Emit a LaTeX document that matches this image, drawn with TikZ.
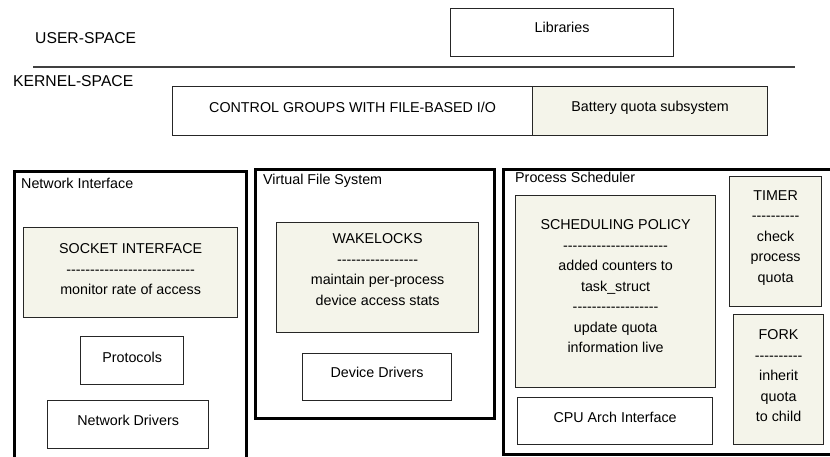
\documentclass[tikz,border=0pt]{standalone}
\usepackage{fontspec}
\setmainfont{Liberation Sans}
\definecolor{beige}{HTML}{F4F4EA}
\newcommand\dl[1]{\foreach\k in {1,...,#1}{-\kern0pt}}
\begin{document}
\begin{tikzpicture}[x=1bp,y=-1bp,
  inbox/.style={draw=black!85, line width=1.2bp, inner sep=0pt, anchor=north west},
  fillbox/.style={inbox, fill=beige},
  outer/.style={draw=black, line width=2.8bp, inner sep=0pt, anchor=north west},
  txt/.style={font=\fontsize{14.3bp}{20.5bp}\selectfont, align=center, inner sep=0pt, text=black},
  big/.style={font=\fontsize{15.7bp}{18bp}\selectfont, inner sep=0pt, text=black},
  sep/.style={draw=black!75, line width=1.4bp}
]
\useasboundingbox (0,0) rectangle (830,457);
\fill[white] (0,0) rectangle (830,457);

% top labels
\node[big, anchor=west] (us) at (35,38) {USER-SPACE};
\node[big, anchor=west] (ks) at (13,81) {KERNEL-SPACE};
\coordinate (sepL) at (33,67);
\coordinate (sepR) at (795,67);
\draw[sep] (sepL) -- (sepR);

% top boxes
\node[inbox, minimum width=223bp, minimum height=48bp] (lib) at (450,8) {};
\node[txt, yshift=5bp] (libt) at (lib.center) {Libraries};
\node[inbox, minimum width=360bp, minimum height=49bp] (cg) at (172,86) {};
\node[txt, yshift=3.5bp] (cgt) at (cg.center) {CONTROL GROUPS WITH FILE-BASED I/O};
\node[fillbox, minimum width=235bp, minimum height=49bp] (bat) at (532,86) {};
\node[txt, yshift=3.5bp] (batt) at (bat.center) {Battery quota subsystem};

% Network Interface
\node[outer, minimum width=232bp, minimum height=300bp] (net) at (13,170) {};
\node[txt, anchor=west] (netl) at (21,183) {Network Interface};
\node[fillbox, minimum width=214bp, minimum height=90bp] (sock) at (23,227) {};
\node[txt, yshift=3.5bp] (sockt) at (sock.center) {SOCKET INTERFACE\\\dl{27}\\monitor rate of access};
\node[inbox, minimum width=103bp, minimum height=48bp] (prot) at (80,336) {};
\node[txt, yshift=3bp] (prott) at (prot.center) {Protocols};
\node[inbox, minimum width=161bp, minimum height=48bp] (ndrv) at (47,400) {};
\node[txt, yshift=4.5bp] (ndrvt) at (ndrv.center) {Network Drivers};

% Virtual File System
\node[outer, minimum width=239bp, minimum height=249bp] (vfs) at (254,168) {};
\node[txt, anchor=west] (vfsl) at (263,181) {Virtual File System};
\node[fillbox, minimum width=202bp, minimum height=110bp] (wake) at (276,222) {};
\node[txt, yshift=8bp] (waket) at (wake.center) {WAKELOCKS\\\dl{17}\\maintain per-process\\device access stats};
\node[inbox, minimum width=149bp, minimum height=47bp] (ddrv) at (302,353) {};
\node[txt, yshift=4.5bp] (ddrvt) at (ddrv.center) {Device Drivers};

% Process Scheduler
\node[outer, minimum width=335bp, minimum height=285bp] (ps) at (502,168) {};
\node[txt, anchor=west] (psl) at (515,177) {Process Scheduler};
\node[fillbox, minimum width=200bp, minimum height=192bp] (sched) at (515,195) {};
\node[txt, yshift=5.5bp] (schedt) at (sched.center) {SCHEDULING POLICY\\\dl{22}\\added counters to\\task\_struct\\\dl{18}\\update quota\\information live};
\node[fillbox, minimum width=92bp, minimum height=130bp] (timer) at (729,176) {};
\node[txt, yshift=4bp] (timert) at (timer.center) {TIMER\\\dl{10}\\check\\process\\quota};
\node[fillbox, minimum width=90bp, minimum height=130bp] (fork) at (733,314) {};
\node[txt, yshift=4bp] (forkt) at (fork.center) {FORK\\\dl{10}\\inherit\\quota\\to child};
\node[inbox, minimum width=195bp, minimum height=47bp] (cpu) at (517,397) {};
\node[txt, yshift=3.5bp] (cput) at (cpu.center) {CPU Arch Interface};
\end{tikzpicture}
\end{document}
